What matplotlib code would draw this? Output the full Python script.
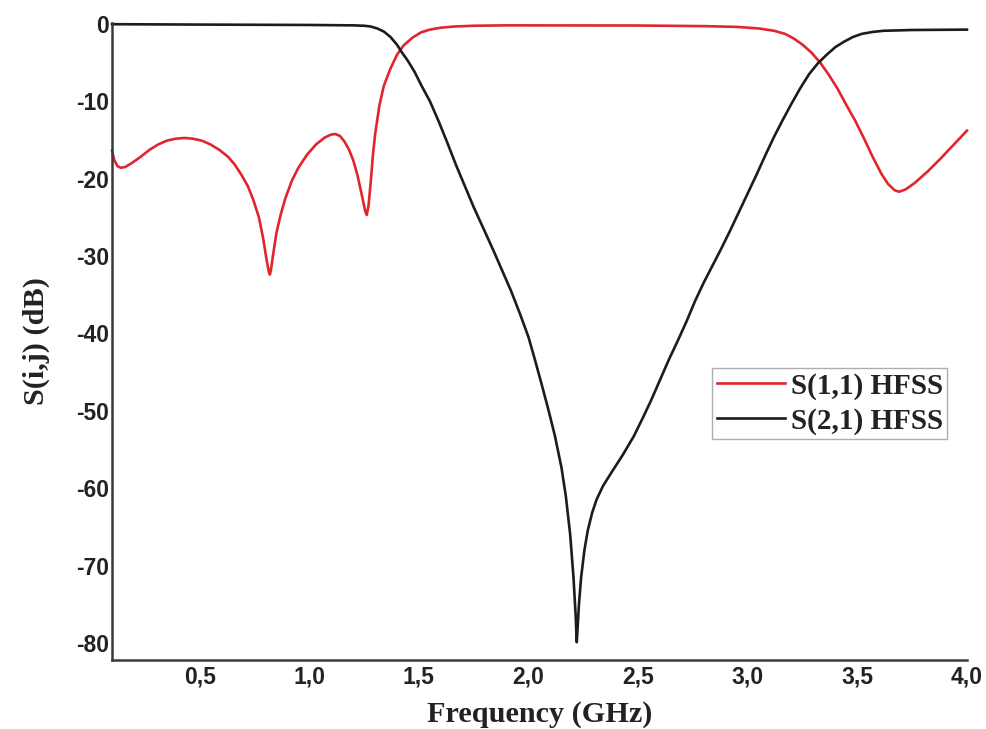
import matplotlib
matplotlib.use("Agg")
import matplotlib.pyplot as plt

# S-parameter sweep (frequency in GHz, magnitude in dB)
freq_s11 = [0.10, 0.11, 0.125, 0.14, 0.16, 0.19, 0.23, 0.27, 0.31, 0.35, 0.39,
            0.43, 0.47, 0.51, 0.55, 0.59, 0.63, 0.66, 0.69, 0.72, 0.745, 0.77,
            0.79, 0.805, 0.815, 0.82, 0.825, 0.835, 0.85, 0.87, 0.89, 0.92,
            0.95, 0.99, 1.03, 1.07, 1.10, 1.12, 1.14, 1.16, 1.18, 1.20, 1.22,
            1.24, 1.255, 1.262, 1.27, 1.28, 1.29, 1.30, 1.32, 1.34, 1.37, 1.40,
            1.43, 1.47, 1.51, 1.55, 1.60, 1.66, 1.75, 1.90, 2.50, 2.80, 2.95,
            3.05, 3.12, 3.17, 3.21, 3.25, 3.29, 3.33, 3.37, 3.41, 3.45, 3.49,
            3.53, 3.57, 3.61, 3.64, 3.67, 3.69, 3.72, 3.76, 3.82, 3.88, 3.94,
            4.00]
s11_db = [-16.4, -17.6, -18.4, -18.6, -18.5, -18.0, -17.2, -16.3, -15.6, -15.1,
          -14.85, -14.75, -14.85, -15.1, -15.6, -16.3, -17.2, -18.2, -19.5,
          -21.0, -22.8, -25.0, -27.8, -30.5, -32.0, -32.4, -31.8, -29.8, -27.0,
          -24.6, -22.6, -20.3, -18.6, -16.9, -15.6, -14.7, -14.3, -14.25,
          -14.5, -15.2, -16.2, -17.6, -19.6, -22.2, -24.2, -24.7, -23.5, -20.5,
          -17.0, -14.3, -10.5, -8.0, -5.8, -4.0, -2.8, -1.8, -1.1, -0.75, -0.5,
          -0.35, -0.25, -0.2, -0.22, -0.3, -0.4, -0.6, -0.9, -1.3, -1.9, -2.7,
          -3.7, -5.0, -6.6, -8.4, -10.5, -12.5, -14.8, -17.2, -19.4, -20.7,
          -21.5, -21.7, -21.4, -20.6, -19.1, -17.4, -15.6, -13.8]

freq_s21 = [0.10, 0.50, 1.00, 1.20, 1.25, 1.28, 1.31, 1.34, 1.37, 1.40, 1.42,
            1.45, 1.48, 1.51, 1.55, 1.59, 1.63, 1.67, 1.71, 1.75, 1.80, 1.84,
            1.88, 1.92, 1.96, 2.00, 2.03, 2.06, 2.09, 2.12, 2.15, 2.17, 2.19,
            2.205, 2.215, 2.22, 2.225, 2.23, 2.24, 2.255, 2.27, 2.29, 2.31,
            2.34, 2.38, 2.43, 2.48, 2.52, 2.56, 2.60, 2.64, 2.68, 2.72, 2.76,
            2.80, 2.84, 2.88, 2.92, 2.96, 3.00, 3.04, 3.08, 3.12, 3.16, 3.20,
            3.24, 3.28, 3.32, 3.36, 3.40, 3.44, 3.48, 3.52, 3.57, 3.62, 3.75,
            4.00]
s21_db = [-0.05, -0.1, -0.15, -0.2, -0.25, -0.35, -0.6, -1.0, -1.7, -2.7, -3.6,
          -4.8, -6.2, -7.9, -10.0, -12.6, -15.4, -18.3, -21.0, -23.7, -26.8,
          -29.3, -31.9, -34.5, -37.4, -40.5, -43.5, -46.6, -49.8, -53.2, -57.3,
          -61.0, -66.0, -71.5, -76.5, -79.9, -77.5, -75.0, -71.5, -68.0, -65.5,
          -63.2, -61.5, -59.7, -57.9, -55.7, -53.3, -51.0, -48.6, -46.0, -43.4,
          -41.0, -38.5, -35.8, -33.4, -31.2, -29.0, -26.7, -24.3, -21.9, -19.5,
          -17.0, -14.6, -12.4, -10.3, -8.3, -6.5, -5.1, -4.0, -3.0, -2.3, -1.7,
          -1.3, -1.05, -0.9, -0.8, -0.75]

x_ticks = [0.5, 1.0, 1.5, 2.0, 2.5, 3.0, 3.5, 4.0]
x_tick_labels = ["0,5", "1,0", "1,5", "2,0", "2,5", "3,0", "3,5", "4,0"]
y_ticks = [0, -10, -20, -30, -40, -50, -60, -70, -80]

fig = plt.figure(figsize=(9.87, 7.29), dpi=100)
ax = fig.add_axes([0.1135, 0.0947, 0.8662, 0.8737])

ax.plot(freq_s11, s11_db, color="#e0262c", lw=1.9, label="S(1,1) HFSS",
        clip_on=False, solid_joinstyle="round")
ax.plot(freq_s21, s21_db, color="#1c1c1c", lw=1.9, label="S(2,1) HFSS",
        clip_on=False, solid_joinstyle="round")

ax.set_xlim(0.1, 4.0)
ax.set_ylim(-82.2, 0.1)

ax.set_xticks(x_ticks)
ax.set_xticklabels(x_tick_labels)
ax.set_yticks(y_ticks)
ax.set_yticklabels([str(v) for v in y_ticks])

for lbl in ax.get_xticklabels() + ax.get_yticklabels():
    lbl.set_fontfamily("Liberation Sans")
    lbl.set_fontweight("bold")
    lbl.set_fontsize(16.5)
    lbl.set_color("#222222")
ax.tick_params(axis="both", length=0)
ax.tick_params(axis="x", pad=4)
ax.tick_params(axis="y", pad=2)

for side in ("top", "right"):
    ax.spines[side].set_visible(False)
for side in ("left", "bottom"):
    ax.spines[side].set_color("#3a3a3a")
    ax.spines[side].set_linewidth(1.8)

label_font = dict(family="Liberation Serif", weight="bold", size=21.8, color="#222222")
ax.set_xlabel("Frequency (GHz)", labelpad=9, **label_font)
ax.set_ylabel("S(i,j) (dB)", labelpad=19, **label_font)

leg = ax.legend(loc="upper left", bbox_to_anchor=(0.702, 0.458),
                borderaxespad=0, frameon=True, fancybox=False,
                handlelength=2.35, handletextpad=0.2, borderpad=0.15,
                labelspacing=0.25,
                prop=dict(family="Liberation Serif", weight="bold", size=21))
leg.get_frame().set_edgecolor("#9a9a9a")
leg.get_frame().set_linewidth(1.0)
for t in leg.get_texts():
    t.set_color("#222222")

fig.savefig("out.png", dpi=100, facecolor="white")
